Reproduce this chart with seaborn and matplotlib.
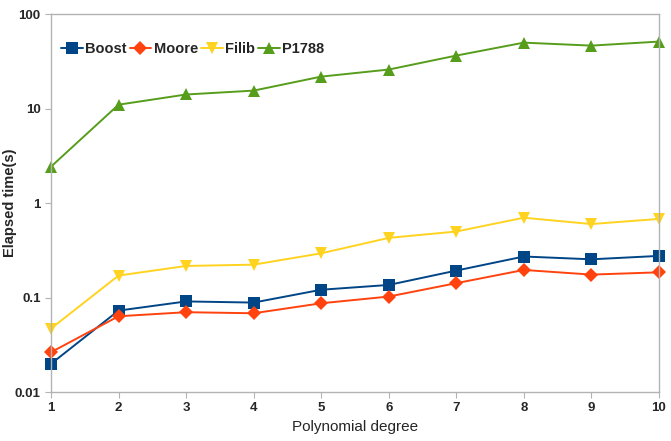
import matplotlib
matplotlib.use("Agg")
import matplotlib.pyplot as plt
import matplotlib.ticker as mticker
import pandas as pd
import seaborn as sns

# data (log scale)
degrees = [1, 2, 3, 4, 5, 6, 7, 8, 9, 10]
boost = [0.0199, 0.0728, 0.091, 0.0885, 0.121, 0.136, 0.193, 0.272, 0.254, 0.276]
moore = [0.0264, 0.0634, 0.070, 0.0682, 0.087, 0.1025, 0.142, 0.196, 0.175, 0.185]
filib = [0.047, 0.171, 0.216, 0.223, 0.294, 0.428, 0.50, 0.70, 0.60, 0.68]
p1788 = [2.43, 11.0, 14.1, 15.5, 21.8, 25.9, 36.4, 49.9, 46.4, 51.2]

series_names = ["Boost", "Moore", "Filib", "P1788"]
colors = {"Boost": "#004586", "Moore": "#ff420e", "Filib": "#ffd320", "P1788": "#579d1c"}
markers = {"Boost": "s", "Moore": "D", "Filib": "v", "P1788": "^"}
msizes = {"Boost": 8, "Moore": 7, "Filib": 9, "P1788": 9}

df = pd.DataFrame({
    "degree": degrees * 4,
    "time": boost + moore + filib + p1788,
    "lib": sum([[n] * len(degrees) for n in series_names], []),
})

sns.set_style("white")
plt.rcParams["font.family"] = ["Liberation Sans", "DejaVu Sans"]

fig = plt.figure(figsize=(6.71, 4.41), dpi=100)
ax = fig.add_axes([0.076, 0.111, 0.906, 0.857])

for name in series_names:
    sub = df[df["lib"] == name]
    sns.lineplot(data=sub, x="degree", y="time", ax=ax, color=colors[name],
                 marker=markers[name], markersize=msizes[name], markeredgewidth=0,
                 linewidth=1.4, label=name, clip_on=False)

ax.set_yscale("log")
ax.set_ylim(0.01, 100)
ax.set_xlim(1, 10)
ax.set_xticks(degrees)
ax.yaxis.set_major_locator(mticker.LogLocator(base=10, numticks=10))
ax.yaxis.set_minor_locator(mticker.NullLocator())
ax.yaxis.set_major_formatter(mticker.FuncFormatter(lambda v, p: f"{v:g}"))

for s in ax.spines.values():
    s.set_color("#b3b3b3")
    s.set_linewidth(1)
ax.tick_params(axis="both", which="major", length=4, color="#b3b3b3",
               labelsize=9.5, direction="out", left=True, bottom=True)
for lab in ax.get_xticklabels() + ax.get_yticklabels():
    lab.set_fontweight("bold")

ax.set_xlabel("Polynomial degree", fontsize=11)
ax.set_ylabel("Elapsed time(s)", fontsize=10.5, fontweight="bold")
ax.yaxis.set_label_coords(-0.056, 0.5)

leg = ax.legend(loc="upper left", bbox_to_anchor=(-0.005, 0.96), ncol=4, frameon=False,
                handlelength=1.5, handletextpad=0.15, columnspacing=0.2,
                prop={"size": 10.5, "weight": "bold"})

fig.savefig("out.png", dpi=100)
